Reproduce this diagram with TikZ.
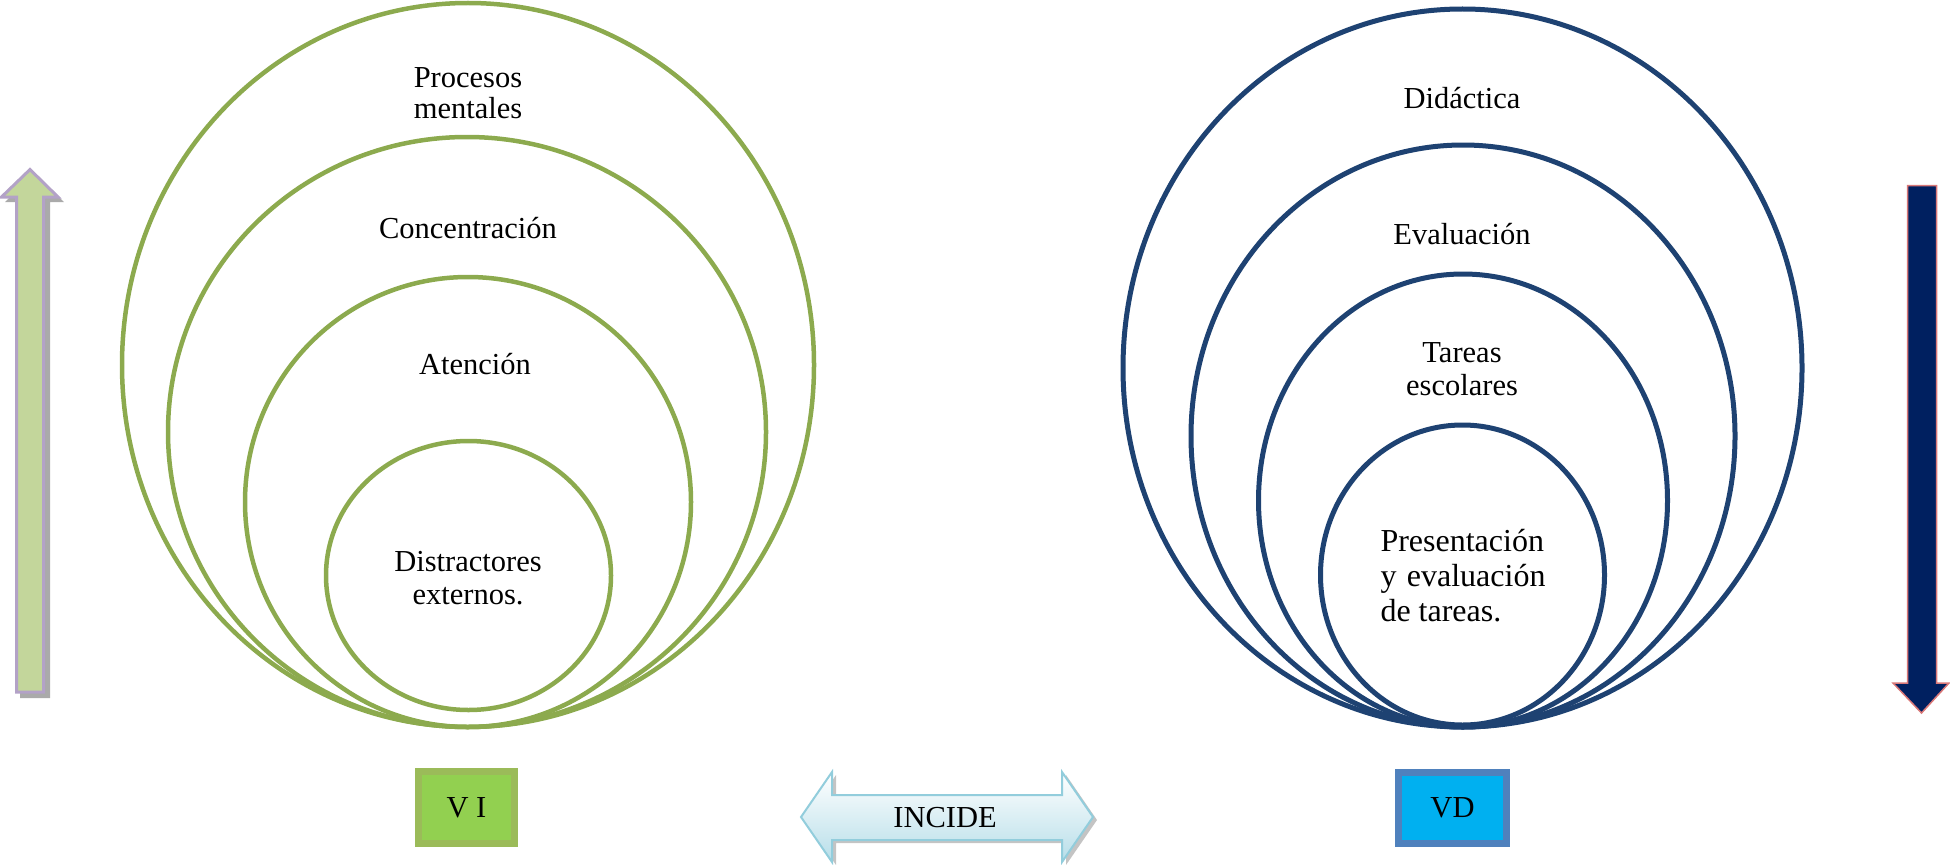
\documentclass[tikz,border=0pt]{standalone}
\usepackage{fontspec}
\setmainfont{Liberation Serif}
\usetikzlibrary{shapes.geometric}
\definecolor{gstroke}{RGB}{140,170,78}
\definecolor{bstroke}{RGB}{30,66,114}
\definecolor{vifill}{RGB}{146,208,80}
\definecolor{viborder}{RGB}{155,187,89}
\definecolor{vdfill}{RGB}{0,176,240}
\definecolor{vdborder}{RGB}{79,129,189}
\definecolor{upfill}{RGB}{195,214,155}
\definecolor{upborder}{RGB}{179,162,199}
\definecolor{downfill}{RGB}{0,32,96}
\definecolor{downborder}{RGB}{217,120,120}
\definecolor{incfill}{RGB}{183,222,233}
\definecolor{incborder}{RGB}{146,205,220}
\definecolor{shadowgray}{RGB}{170,170,170}
\begin{document}
\begin{tikzpicture}[x=1pt,y=-1pt,
  gring/.style={draw=gstroke, line width=4.5pt, ellipse, inner sep=0pt},
  bring/.style={draw=bstroke, line width=5pt, ellipse, inner sep=0pt},
  lbl/.style={font=\fontsize{30.5}{33}\selectfont, align=center, inner sep=0pt},
  varbox/.style={line width=7pt, inner sep=0pt, font=\fontsize{30.5}{33}\selectfont},
]
\useasboundingbox (0,0) rectangle (1950,864);

% green rings
\node[gring, minimum width=692pt, minimum height=724pt] (g1) at (468,365) {};
\node[gring, minimum width=598pt, minimum height=590pt] (g2) at (467,432) {};
\node[gring, minimum width=446pt, minimum height=450pt] (g3) at (468,502) {};
\node[gring, minimum width=285pt, minimum height=269pt] (g4) at (468.5,575.5) {};

% blue rings
\node[bring, minimum width=679pt, minimum height=718pt] (b1) at (1462.5,368) {};
\node[bring, minimum width=544pt, minimum height=582pt] (b2) at (1463,436) {};
\node[bring, minimum width=409pt, minimum height=453pt] (b3) at (1463,500.5) {};
\node[bring, minimum width=284pt, minimum height=300pt] (b4) at (1462.5,575) {};

% labels
\node[lbl, font=\fontsize{30.5}{31}\selectfont] (t1) at (468,93) {Procesos\\mentales};
\node[lbl] (t2) at (468,228) {Concentración};
\node[lbl] (t3) at (475,364) {Atención};
\node[lbl] (t4) at (468,578) {Distractores\\externos.};
\node[lbl] (t5) at (1462,98) {Didáctica};
\node[lbl] (t6) at (1462,234) {Evaluación};
\node[lbl] (t7) at (1462,369) {Tareas\\escolares};
\node[lbl, font=\fontsize{32}{35}\selectfont, align=justify, text width=165pt] (t8) at (1463,576)
  {\hyphenpenalty=10000 \exhyphenpenalty=10000 Presentación y evaluación de tareas.};

% left up arrow (with shadow)
\fill[shadowgray] (20,698) -- (50,698) -- (50,202) -- (64,202) -- (35,173) -- (5,202) -- (20,202) -- cycle;
\draw[fill=upfill, draw=upborder, line width=3pt, line join=miter]
  (16.5,692) -- (43.5,692) -- (43.5,197) -- (58,197) -- (30,169.5) -- (1.5,197) -- (16.5,197) -- cycle;

% right down arrow
\draw[fill=downfill, draw=downborder, line width=1.5pt, line join=miter]
  (1907.5,185.5) -- (1936.5,185.5) -- (1936.5,683) -- (1949,683) -- (1921.5,713) -- (1893,683) -- (1907.5,683) -- cycle;

% INCIDE double arrow
\fill[shadowgray!70] (805,820) -- (836,775) -- (836,798) -- (1066,798) -- (1066,775) -- (1097,820) -- (1066,865) -- (1066,843) -- (836,843) -- (836,865) -- cycle;
\path[top color=white, bottom color=incfill, draw=incborder, line width=2pt]
  (801,817) -- (832,772) -- (832,795) -- (1062,795) -- (1062,772) -- (1093,817) -- (1062,862) -- (1062,840) -- (832,840) -- (832,862) -- cycle;
\node[lbl] (inc) at (945,818) {INCIDE};

% variable boxes
\node[varbox, draw=viborder, fill=vifill, minimum width=96pt, minimum height=72pt] (vi) at (466.5,807.5) {V I};
\node[varbox, draw=vdborder, fill=vdfill, minimum width=108pt, minimum height=71pt] (vd) at (1452.5,808) {VD};
\end{tikzpicture}
\end{document}
